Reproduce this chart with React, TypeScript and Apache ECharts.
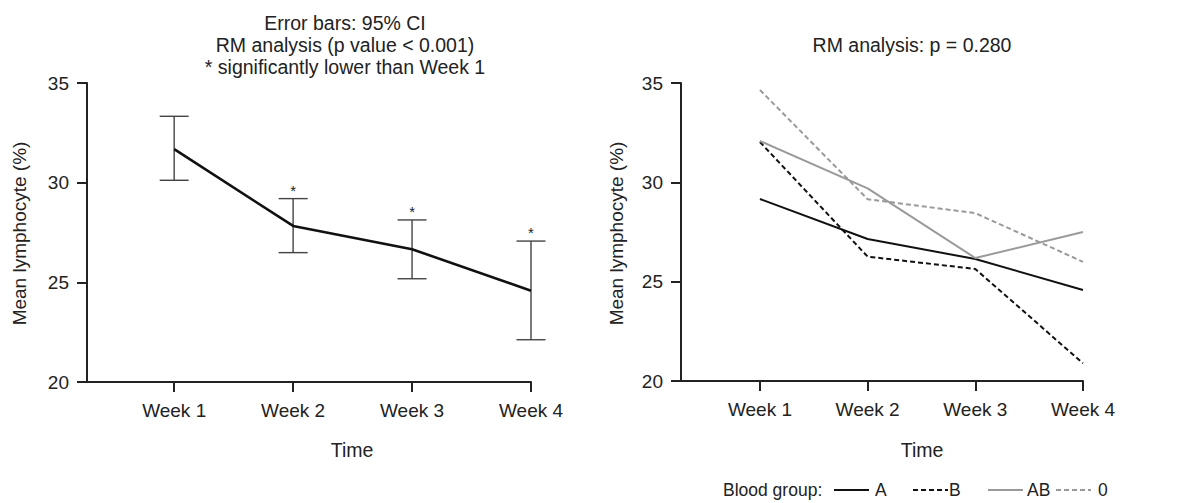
import React, { useEffect, useRef } from "react";
import * as echarts from "echarts";

const weeks = ["Week 1", "Week 2", "Week 3", "Week 4"];
const weekPos = [1, 2, 3, 4];

// Left panel: overall mean with 95% CI
const meanAll = [31.68, 27.83, 26.66, 24.58];
const ciLow = [30.12, 26.49, 25.18, 22.12];
const ciHigh = [33.33, 29.2, 28.13, 27.07];
const significant = [false, true, true, true];

// Right panel: by blood group
const groupNames = ["A", "B", "AB", "0"];
const groupA = [29.16, 27.15, 26.14, 24.58];
const groupB = [32.03, 26.26, 25.64, 20.89];
const groupAB = [32.08, 29.7, 26.19, 27.5];
const group0 = [34.65, 29.15, 28.45, 26.0];

const yMin = 20;
const yMax = 35;
const yStep = 5;

const leftTitle = ["Error bars: 95% CI", "RM analysis (p value < 0.001)", "* significantly lower than Week 1"];
const rightTitle = "RM analysis: p = 0.280";
const xName = "Time";
const yName = "Mean lymphocyte (%)";
const legendLabel = "Blood group:";

const FONT = "'Liberation Sans', Arial, Helvetica, sans-serif";
const INK = "#222";
const GRAY = "#9a9a9a";

function xAxisFor(gridIndex: number) {
  return {
    type: "value",
    gridIndex,
    min: 0.267,
    max: 4,
    axisLine: { show: true, onZero: false, lineStyle: { color: INK, width: 2 } },
    axisTick: { show: true, length: 10, lineStyle: { color: INK, width: 2 }, customValues: weekPos },
    axisLabel: {
      customValues: weekPos,
      formatter: (v: number) => weeks[Math.round(v) - 1] ?? "",
      fontSize: 19,
      color: INK,
      margin: 19,
      fontFamily: FONT,
    },
    splitLine: { show: false },
  };
}

function yAxisFor(gridIndex: number) {
  return {
    type: "value",
    gridIndex,
    min: yMin,
    max: yMax,
    interval: yStep,
    axisLine: { show: true, onZero: false, lineStyle: { color: INK, width: 2 } },
    axisTick: { show: true, length: 10, lineStyle: { color: INK, width: 2 } },
    axisLabel: { fontSize: 19, color: INK, margin: 18, fontFamily: FONT },
    splitLine: { show: false },
  };
}

const pairs = (vals: number[]) => vals.map((v, i) => [weekPos[i], v]);

export default function App() {
  const ref = useRef<HTMLDivElement>(null);

  useEffect(() => {
    if (!ref.current) return;
    const chart = echarts.init(ref.current, null, { renderer: "svg" });

    const errData = weekPos.map((w, i) => [w, ciLow[i], ciHigh[i], significant[i] ? 1 : 0]);

    const groupSeries = [
      { name: groupNames[0], data: groupA, color: "#111", dashed: false },
      { name: groupNames[1], data: groupB, color: "#111", dashed: true },
      { name: groupNames[2], data: groupAB, color: GRAY, dashed: false },
      { name: groupNames[3], data: group0, color: GRAY, dashed: true },
    ];

    const legendItems = [
      { x: 834, label: groupNames[0], color: "#111", dashed: false, tx: 875 },
      { x: 913, label: groupNames[1], color: "#111", dashed: true, tx: 949 },
      { x: 988, label: groupNames[2], color: GRAY, dashed: false, tx: 1027 },
      { x: 1056, label: groupNames[3], color: GRAY, dashed: true, tx: 1098 },
    ];
    const legendY = 490;

    const txt = (x: number, y: number, text: string, size: number, align = "center", rot = 0) => ({
      type: "text",
      x,
      y,
      rotation: rot,
      style: { text, fontSize: size, fill: INK, fontFamily: FONT, textAlign: align, textVerticalAlign: "middle" },
    });

    const graphics: any[] = [
      {
        type: "text",
        x: 345,
        y: 12,
        style: {
          text: leftTitle.join("\n"),
          fontSize: 19.5,
          lineHeight: 22,
          fill: INK,
          fontFamily: FONT,
          textAlign: "center",
          textVerticalAlign: "top",
        },
      },
      txt(912, 45, rightTitle, 19.5),
      txt(352, 450, xName, 19.5),
      txt(922, 450, xName, 19.5),
      txt(19.5, 233.5, yName, 19, "center", Math.PI / 2),
      txt(616, 233.5, yName, 19, "center", Math.PI / 2),
      txt(723, legendY, legendLabel, 17.5, "left"),
    ];
    legendItems.forEach((it) => {
      graphics.push({
        type: "line",
        shape: { x1: it.x, y1: legendY, x2: it.x + 35, y2: legendY },
        style: { stroke: it.color, lineWidth: 2, lineDash: it.dashed ? [5, 3] : null },
      });
      graphics.push(txt(it.tx, legendY, it.label, 17.5, "left"));
    });

    const option: any = {
      animation: false,
      backgroundColor: "#fff",
      textStyle: { fontFamily: FONT },
      grid: [
        { left: 87, top: 83, width: 444, height: 299, containLabel: false },
        { left: 681, top: 83, width: 402, height: 298, containLabel: false },
      ],
      xAxis: [xAxisFor(0), xAxisFor(1)],
      yAxis: [yAxisFor(0), yAxisFor(1)],
      graphic: graphics,
      series: [
        {
          type: "custom",
          xAxisIndex: 0,
          yAxisIndex: 0,
          clip: false,
          data: errData,
          renderItem: (params: any, api: any) => {
            const x = api.value(0);
            const lo = api.value(1);
            const hi = api.value(2);
            const sig = api.value(3);
            const pHi = api.coord([x, hi]);
            const pLo = api.coord([x, lo]);
            const half = 14.5;
            const st = { stroke: "#444", lineWidth: 1.4 };
            const children: any[] = [
              { type: "line", shape: { x1: pHi[0], y1: pHi[1], x2: pLo[0], y2: pLo[1] }, style: st },
              { type: "line", shape: { x1: pHi[0] - half, y1: pHi[1], x2: pHi[0] + half, y2: pHi[1] }, style: st },
              { type: "line", shape: { x1: pLo[0] - half, y1: pLo[1], x2: pLo[0] + half, y2: pLo[1] }, style: st },
            ];
            if (sig) {
              children.push({
                type: "text",
                x: pHi[0],
                y: pHi[1] - 1,
                style: { text: "*", fontSize: 15, fill: INK, fontFamily: FONT, textAlign: "center", textVerticalAlign: "bottom" },
              });
            }
            return { type: "group", children };
          },
        },
        {
          type: "line",
          xAxisIndex: 0,
          yAxisIndex: 0,
          data: pairs(meanAll),
          symbol: "none",
          showSymbol: false,
          lineStyle: { color: "#111", width: 2.6 },
          z: 3,
        },
        ...groupSeries.map((g) => ({
          type: "line",
          name: g.name,
          xAxisIndex: 1,
          yAxisIndex: 1,
          data: pairs(g.data),
          symbol: "none",
          showSymbol: false,
          lineStyle: { color: g.color, width: 2, type: g.dashed ? [5, 3] : "solid" },
        })),
      ],
    };

    chart.setOption(option);
    return () => chart.dispose();
  }, []);

  return (
    <div
      ref={ref}
      style={{ position: "absolute", left: 0, top: 0, width: 1177, height: 503, background: "#fff" }}
    />
  );
}
